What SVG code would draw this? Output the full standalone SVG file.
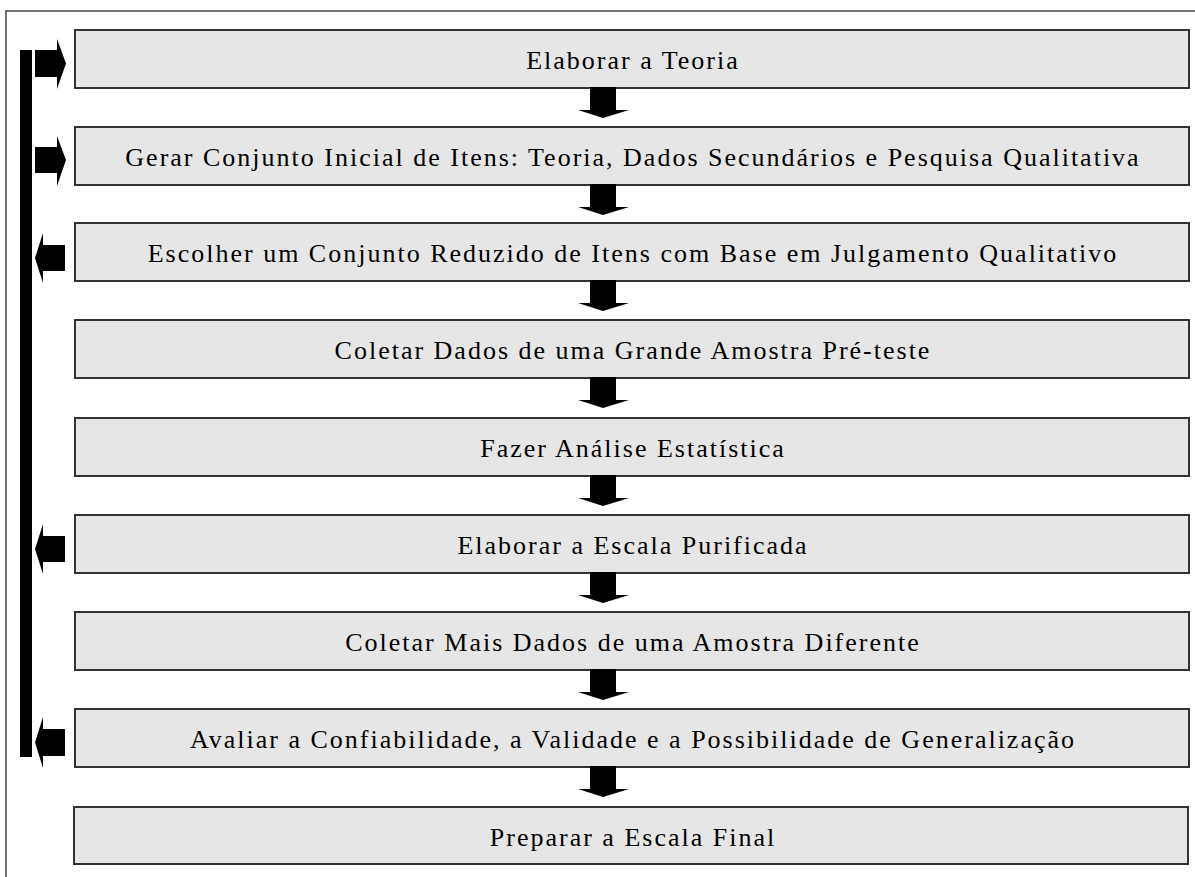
<svg xmlns="http://www.w3.org/2000/svg" width="1195" height="877" viewBox="0 0 1195 877">
<style>
.box{fill:#e6e6e6;stroke:#333;stroke-width:2}
.t{font-family:"Liberation Serif","Times New Roman",serif;font-size:26px;letter-spacing:2px;fill:#000;text-anchor:middle}
.ar{fill:#000}
</style>
<rect x="6" y="11" width="1200" height="880" fill="#fff" stroke="#444" stroke-width="1.5"/>
<g id="n1"><rect class="box" x="75" y="30" width="1114" height="58"/><text class="t" x="633" y="69">Elaborar a Teoria</text></g>
<g id="n2"><rect class="box" x="75" y="127" width="1114" height="58"/><text class="t" x="633" y="166">Gerar Conjunto Inicial de Itens: Teoria, Dados Secundários e Pesquisa Qualitativa</text></g>
<g id="n3"><rect class="box" x="75" y="223" width="1114" height="58"/><text class="t" x="633" y="262">Escolher um Conjunto Reduzido de Itens com Base em Julgamento Qualitativo</text></g>
<g id="n4"><rect class="box" x="75" y="320" width="1114" height="58"/><text class="t" x="633" y="359">Coletar Dados de uma Grande Amostra Pré-teste</text></g>
<g id="n5"><rect class="box" x="75" y="418" width="1114" height="58"/><text class="t" x="633" y="457">Fazer Análise Estatística</text></g>
<g id="n6"><rect class="box" x="75" y="515" width="1114" height="58"/><text class="t" x="633" y="554">Elaborar a Escala Purificada</text></g>
<g id="n7"><rect class="box" x="75" y="612" width="1114" height="58"/><text class="t" x="633" y="651">Coletar Mais Dados de uma Amostra Diferente</text></g>
<g id="n8"><rect class="box" x="75" y="709" width="1114" height="58"/><text class="t" x="633" y="748">Avaliar a Confiabilidade, a Validade e a Possibilidade de Generalização</text></g>
<g id="n9"><rect class="box" x="74" y="807" width="1114" height="57"/><text class="t" x="633" y="846">Preparar a Escala Final</text></g>
<g id="connectors">
<rect class="ar" x="20" y="50" width="12" height="707"/>
<path class="ar" d="M35,50H57V39L66,63.5L57,89V77H35Z"/>
<path class="ar" d="M35,147H57V136L66,160L57,186V173H35Z"/>
<path class="ar" d="M65,245H43V233L35,258L43,283V271H65Z"/>
<path class="ar" d="M65,536H43V524L35,549L43,574V562H65Z"/>
<path class="ar" d="M65,729H43V717L35,742.5L43,768V756H65Z"/>
<path class="ar" d="M590,87H616V110H629L603,118L578,110H590Z"/>
<path class="ar" d="M590,184H616V207H629L603,215L578,207H590Z"/>
<path class="ar" d="M590,280H616V303H629L603,311L578,303H590Z"/>
<path class="ar" d="M590,377H616V400H629L603,408L578,400H590Z"/>
<path class="ar" d="M590,475H616V498H629L603,506L578,498H590Z"/>
<path class="ar" d="M590,572H616V595H629L603,603L578,595H590Z"/>
<path class="ar" d="M590,669H616V692H629L603,700L578,692H590Z"/>
<path class="ar" d="M590,766H616V789H629L603,797L578,789H590Z"/>
</g>
</svg>
